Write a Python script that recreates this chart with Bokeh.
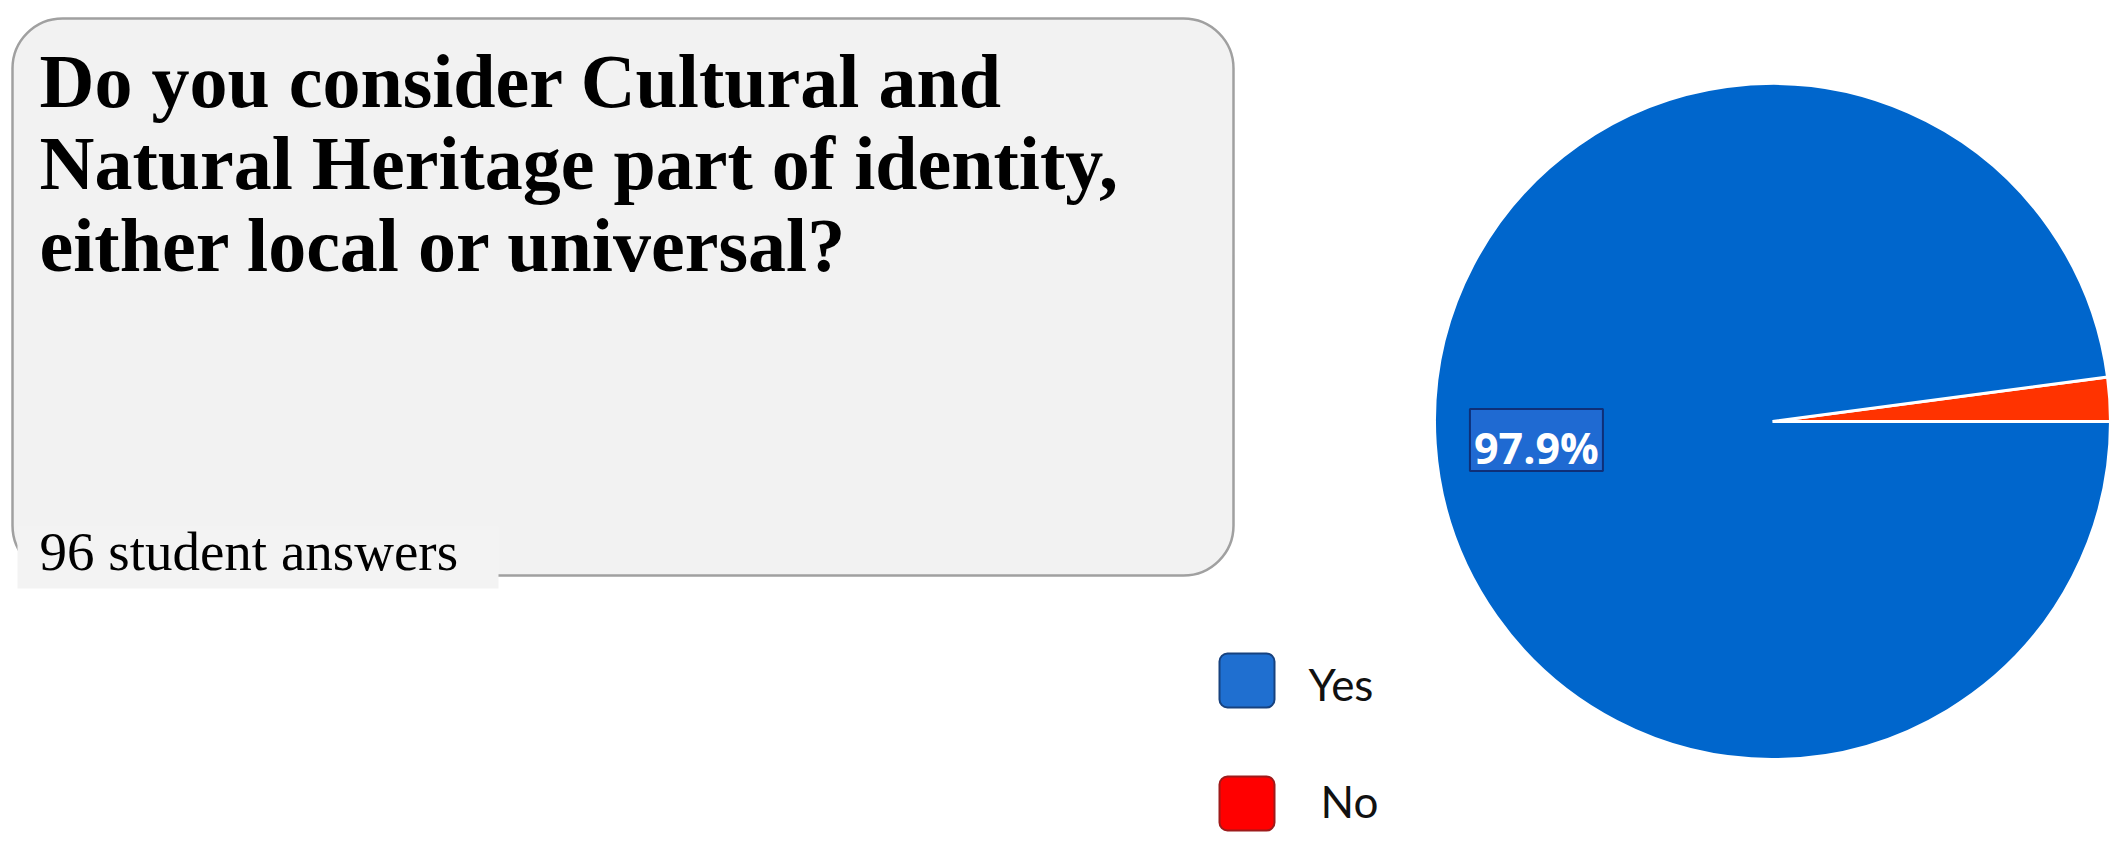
import math
from bokeh.plotting import figure
from bokeh.models import Range1d
from bokeh.core.properties import value
from bokeh.embed import file_html
from bokeh.resources import INLINE

# ---- data ----
title_lines = ["Do you consider Cultural and",
               "Natural Heritage part of identity,",
               "either local or universal?"]
subtitle = "96 student answers"
labels = ["Yes", "No"]
percents = [97.9, 2.1]
pie_colors = ["#0066CC", "#FF3300"]
legend_fill = ["#1F6FD0", "#FF0000"]
legend_line = ["#17427F", "#9E1B1B"]

W, H = 2112, 833
REF_H = 849


def Y(ref_y):
    return REF_H - ref_y


def TY(ref_baseline, fs, k):
    return Y(ref_baseline) + k * fs


p = figure(width=W, height=H, output_backend="svg", toolbar_location=None,
           x_range=Range1d(0, W), y_range=Range1d(REF_H - H, REF_H),
           x_axis_type=None, y_axis_type=None, min_border=0)
p.grid.visible = False
p.outline_line_color = None
p.background_fill_color = "white"
p.border_fill_color = "white"

# ---- question card ----
p.quad(left=[12], right=[1233], top=[Y(18)], bottom=[Y(575)],
       fill_color="#F2F2F2", line_color="#A0A0A0", line_width=2.5,
       border_radius=50)
p.quad(left=[17], right=[498], top=[Y(526)], bottom=[Y(588)],
       fill_color="#F3F3F3", line_color=None)

for i, line in enumerate(title_lines):
    p.text(x=[39], y=[TY(103 + 82 * i, 76, 0.30)], text=[line],
           text_font=value("Liberation Serif"), text_font_style="bold",
           text_font_size="76px", text_color="black",
           text_baseline="alphabetic", text_align="left")

p.text(x=[39], y=[TY(567, 55, 0.30)], text=[subtitle],
       text_font=value("Liberation Serif"), text_font_size="55px",
       text_color="black", text_baseline="alphabetic", text_align="left")

# ---- pie ----
cx, cy, R = 1772, Y(421), 338
total = sum(percents)
# slices drawn counter-clockwise from 3 o'clock: "No" first, then "Yes"
order = [1, 0]
start = 0.0
angles = {}
for k in order:
    a = percents[k] / total * 2 * math.pi
    angles[k] = (start, start + a)
    start += a

for k in order:
    s, e = angles[k]
    p.wedge(x=[cx], y=[cy], radius=R, start_angle=[s], end_angle=[e],
            fill_color=pie_colors[k], line_color="white", line_width=3)

# label for the big slice
s, e = angles[0]
mid = (s + e) / 2
lx = cx + 0.70 * R * math.cos(mid)
ly = cy + 0.70 * R * math.sin(mid) - 3
p.rect(x=[lx], y=[ly], width=133, height=62, fill_color="#1F6AD2",
       line_color="#0E2F78", line_width=2)
p.text(x=[lx], y=[ly - 7], text=[f"{percents[0]}%"],
       text_font=value("Open Sans"), text_font_style="bold",
       text_font_size="43px", text_color="white",
       text_align="center", text_baseline="middle")

# ---- legend ----
for i, lab in enumerate(labels):
    yc = 680 + 123 * i
    p.quad(left=[1219], right=[1274], top=[Y(yc - 27)], bottom=[Y(yc + 27)],
           fill_color=legend_fill[i], line_color=legend_line[i], line_width=2,
           border_radius=8)
    p.text(x=[1308 + 12 * i], y=[TY(700 + 117 * i, 44, 0.37)], text=[lab],
           text_font=value("Lato"), text_font_size="44px", text_color="#111111",
           text_baseline="alphabetic", text_align="left")

open("out.html", "w").write(file_html(p, INLINE))
